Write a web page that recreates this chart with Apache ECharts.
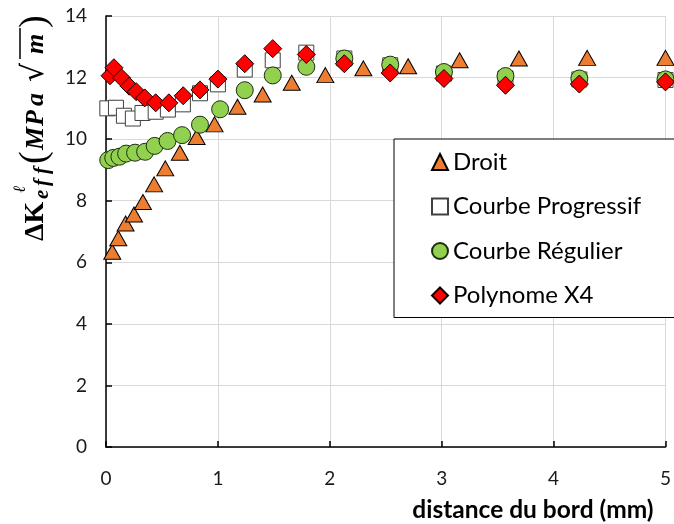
<!DOCTYPE html>
<html>
<head>
<meta charset="utf-8">
<script src="https://cdn.jsdelivr.net/npm/echarts@6/dist/echarts.min.js"></script>
<style>html,body{margin:0;padding:0;background:#fff}#c{width:674px;height:524px}</style>
</head>
<body>
<div id="c"></div>
<script>
// ---- data ----
const droitX = [0.056, 0.11, 0.175, 0.25, 0.33, 0.43, 0.53, 0.66, 0.81, 0.97, 1.175, 1.40, 1.66, 1.96, 2.30, 2.70, 3.16, 3.69, 4.30, 5.0];
const droitY = [6.34, 6.78, 7.26, 7.55, 7.96, 8.53, 9.05, 9.56, 10.07, 10.48, 11.05, 11.45, 11.83, 12.08, 12.30, 12.37, 12.56, 12.62, 12.64, 12.64];

const progX = [0.012, 0.089, 0.16, 0.24, 0.326, 0.444, 0.553, 0.687, 0.84, 1.0, 1.24, 1.49, 1.79, 2.13, 2.54, 3.02, 3.57, 4.23, 5.0];
const progY = [11.0, 11.02, 10.76, 10.67, 10.85, 10.89, 10.96, 11.13, 11.49, 11.78, 12.26, 12.56, 12.81, 12.62, 12.4, 12.13, 11.97, 11.94, 11.92];

const regX = [0.02, 0.065, 0.12, 0.18, 0.26, 0.35, 0.435, 0.55, 0.68, 0.84, 1.02, 1.24, 1.49, 1.79, 2.13, 2.54, 3.02, 3.57, 4.23, 5.0];
const regY = [9.32, 9.39, 9.43, 9.53, 9.56, 9.59, 9.78, 9.94, 10.13, 10.47, 10.97, 11.59, 12.07, 12.35, 12.62, 12.42, 12.18, 12.05, 11.97, 11.94];

const polyX = [0.036, 0.071, 0.139, 0.207, 0.27, 0.346, 0.444, 0.562, 0.69, 0.84, 1.0, 1.24, 1.49, 1.79, 2.13, 2.54, 3.02, 3.57, 4.23, 5.0];
const polyY = [12.06, 12.32, 11.99, 11.72, 11.54, 11.34, 11.18, 11.18, 11.41, 11.6, 11.95, 12.45, 12.94, 12.75, 12.45, 12.15, 11.97, 11.75, 11.79, 11.86];

const seriesNames = ['Droit', 'Courbe Progressif', 'Courbe Régulier', 'Polynome X4'];
const xTitle = 'distance du bord (mm)';

function pairs(xs, ys) { return xs.map((x, i) => [x, ys[i]]); }

const chart = echarts.init(document.getElementById('c'), null, {renderer: 'canvas'});
const labelFont = 'Lato, "Open Sans", sans-serif';
const serif = '"Liberation Serif", "DejaVu Serif", serif';

function glyph(text, x, y, size, weight, style, family) {
  return {type: 'text', style: {text: text, x: x, y: y,
    fontSize: size, fontWeight: weight, fontStyle: style, fontFamily: family || serif,
    fill: '#000', textAlign: 'left', align: 'left', textVerticalAlign: 'middle', verticalAlign: 'middle'}};
}

chart.setOption({
  animation: false,
  backgroundColor: '#ffffff',
  grid: {left: 106, right: 5, top: 16, bottom: 77, containLabel: false},
  xAxis: {
    type: 'value', min: 0, max: 5, interval: 1,
    axisLine: {show: true, onZero: false, lineStyle: {color: '#000', width: 1.5}},
    axisTick: {show: true, inside: true, length: 6, lineStyle: {color: '#000', width: 1.5}},
    splitLine: {show: true, lineStyle: {color: '#d9d9d9', width: 1}},
    axisLabel: {color: '#1a1a1a', fontFamily: labelFont, fontSize: 19, margin: 22},
    name: xTitle,
    nameLocation: 'end',
    nameGap: -12,
    nameTextStyle: {color: '#000', fontFamily: labelFont, fontWeight: 'bold', fontSize: 24.5,
      align: 'right', verticalAlign: 'top', padding: [51, 0, 0, 0]}
  },
  yAxis: {
    type: 'value', min: 0, max: 14, interval: 2,
    axisLine: {show: true, onZero: false, lineStyle: {color: '#000', width: 1.5}},
    axisTick: {show: true, inside: true, length: 6, lineStyle: {color: '#000', width: 1.5}},
    splitLine: {show: true, lineStyle: {color: '#d9d9d9', width: 1}},
    axisLabel: {color: '#1a1a1a', fontFamily: labelFont, fontSize: 19, margin: 19}
  },
  legend: {
    orient: 'vertical',
    left: 394, top: 139,
    padding: [10, 55, 9, 37],
    borderColor: '#000', borderWidth: 1,
    backgroundColor: '#fff',
    itemWidth: 16, itemHeight: 16, itemGap: 18.5,
    textStyle: {color: '#000', fontFamily: labelFont, fontSize: 24, lineHeight: 26},
    data: seriesNames
  },
  graphic: [{
    type: 'group', x: 36, y: 127, rotation: Math.PI / 2,
    children: [
      glyph('ΔK', -114, 0, 28, 'bold', 'normal'),
      glyph('ℓ', -66, -15, 17, 'normal', 'italic'),
      glyph('e', -72, 7, 21, 'bold', 'italic'),
      glyph('f', -59, 7, 21, 'bold', 'italic'),
      glyph('f', -47, 7, 21, 'bold', 'italic'),
      glyph('(', -37, -1, 38, 'normal', 'normal'),
      glyph('M', -23, 0, 26, 'bold', 'italic'),
      glyph('P', 1, 0, 26, 'bold', 'italic'),
      glyph('a', 21, 0, 26, 'bold', 'italic'),
      glyph('√', 45, -1, 30, 'normal', 'normal', '"DejaVu Serif", serif'),
      {type: 'line', shape: {x1: 68, y1: -16, x2: 99, y2: -16}, style: {stroke: '#000', lineWidth: 1.5}},
      glyph('m', 73, 0, 26, 'bold', 'italic'),
      glyph(')', 99, -1, 38, 'normal', 'normal')
    ]
  }],
  series: [
    {name: seriesNames[0], type: 'scatter', symbol: 'triangle', symbolSize: [17, 15],
     itemStyle: {color: '#ed7d31', borderColor: '#000', borderWidth: 1, opacity: 1}, data: pairs(droitX, droitY)},
    {name: seriesNames[1], type: 'scatter', symbol: 'rect', symbolSize: 15,
     itemStyle: {color: '#ffffff', borderColor: '#404040', borderWidth: 1, opacity: 1}, data: pairs(progX, progY)},
    {name: seriesNames[2], type: 'scatter', symbol: 'circle', symbolSize: 17,
     itemStyle: {color: '#92d050', borderColor: '#1e2e10', borderWidth: 1, opacity: 1}, data: pairs(regX, regY)},
    {name: seriesNames[3], type: 'scatter', symbol: 'diamond', symbolSize: 18,
     itemStyle: {color: '#ff0000', borderColor: '#1a0000', borderWidth: 1, opacity: 1}, data: pairs(polyX, polyY)}
  ]
});
</script>
</body>
</html>
